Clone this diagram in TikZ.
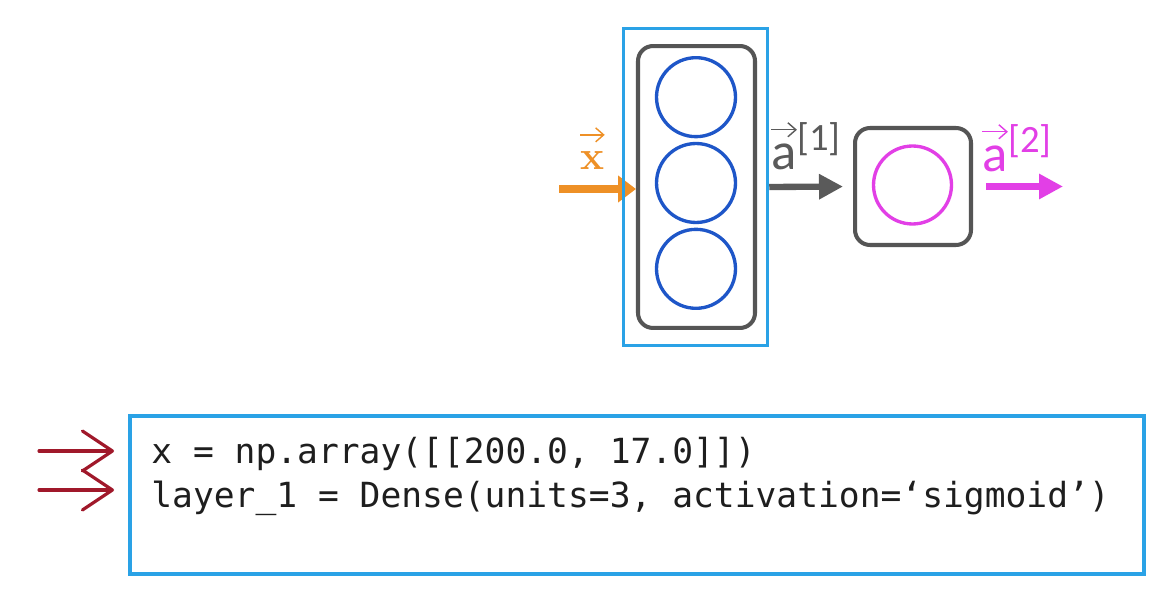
\documentclass[tikz,border=0pt]{standalone}
\usepackage{fontspec}
\setsansfont{Carlito}
\setmonofont{DejaVu Sans Mono}
\usetikzlibrary{arrows.meta,positioning}
\definecolor{PickBlue}{HTML}{2AA2E6}
\definecolor{BoxGray}{HTML}{555555}
\definecolor{UnitBlue}{HTML}{1E56C8}
\definecolor{OutMagenta}{HTML}{E23FE6}
\definecolor{InOrange}{HTML}{EE9026}
\definecolor{MidGray}{HTML}{5A5A5A}
\definecolor{HandRed}{HTML}{A0182A}
\definecolor{CodeInk}{HTML}{1E1E1E}
\tikzset{
  layerbox/.style={
    rounded corners=3mm, draw=BoxGray, line width=2.3pt,
    minimum width=2.34cm, minimum height=5.64cm, inner sep=0pt
  },
  outbox/.style={layerbox, minimum width=2.32cm, minimum height=2.34cm},
  unit/.style={
    circle, draw=UnitBlue, line width=1.9pt, minimum size=1.58cm, inner sep=0pt
  },
  outunit/.style={unit, draw=OutMagenta, minimum size=1.56cm},
  pick/.style={draw=PickBlue, line width=2pt, minimum width=2.88cm, minimum height=6.34cm},
  codebox/.style={draw=PickBlue, line width=2.6pt, minimum width=20.28cm, minimum height=3.16cm},
  codeline/.style={anchor=base west, inner sep=0pt, text=CodeInk,
    font=\ttfamily\fontsize{19.7}{24}\selectfont},
  letter/.style={anchor=base west, inner xsep=0pt, inner ysep=0pt, text height=22.7pt,
    font=\sffamily\fontsize{30}{32}\selectfont},
  xletter/.style={letter, text height=19.8pt, font=\rmfamily\bfseries\fontsize{23}{25}\selectfont},
  idxlabel/.style={anchor=base west, inner sep=0pt, font=\sffamily\fontsize{22}{24}\selectfont},
  vecbar/.style={-{Straight Barb[length=1.6mm,width=2.8mm]}, line width=0.8pt},
  inflow/.style={-{Triangle[length=0.36cm,width=0.52cm]}, line width=4pt, draw=InOrange},
  midflow/.style={-{Triangle[length=0.48cm,width=0.48cm]}, line width=3.6pt, draw=MidGray},
  outflow/.style={-{Triangle[length=0.48cm,width=0.48cm]}, line width=3.6pt, draw=OutMagenta},
  handflow/.style={-{Straight Barb[length=0.6cm,width=0.8cm,round]}, line width=1.8pt,
    draw=HandRed, line cap=round}
}
\begin{document}
\begin{tikzpicture}[x=0.02cm,y=-0.02cm,node distance=0.07cm]
  \useasboundingbox[fill=white] (0,0) rectangle (1166,604);
  % network
  \node[layerbox] (layer1) at (696.5,187) {};
  \node[unit] (u2) at (696,183) {};
  \node[unit,above=of u2] (u1) {};
  \node[unit,below=of u2] (u3) {};
  \node[outbox] (layer2) at (913,186.5) {};
  \node[outunit] (o1) at (912.5,185) {};
  \coordinate (xin) at (559,189);
  \coordinate[right=1.8cm of layer2.east] (aout);
  \draw[inflow] (xin) -- (xin -| layer1.west);
  \node[pick] (pick) at (695.5,187) {};
  \draw[midflow,shorten >=0.2cm] (layer1.east -| pick.east) -- (layer2.west);
  \draw[outflow,shorten <=0.26cm] (layer2.east) -- (aout);
  % labels
  \node[xletter,text=InOrange] (xlab) at (580,170) {x};
  \draw[vecbar,draw=InOrange] (xlab.north west) -- (xlab.north east);
  \node[letter,text=MidGray] (alab1) at (771,170) {a};
  \draw[vecbar,draw=MidGray] (alab1.north west) -- (alab1.north east);
  \node[idxlabel,text=MidGray] (idx1) at ([yshift=11pt]alab1.base east) {[1]};
  \node[letter,text=OutMagenta] (alab2) at (982,172) {a};
  \draw[vecbar,draw=OutMagenta] (alab2.north west) -- (alab2.north east);
  \node[idxlabel,text=OutMagenta] (idx2) at ([yshift=11pt]alab2.base east) {[2]};
  % code
  \node[codebox] (code) at (637,495) {};
  \node[codeline] (line1) at (151,463) {x = np.array([[200.0, 17.0]])};
  \node[codeline] (line2) at (151,507) {layer\_1 = Dense(units=3, activation=‘sigmoid’)};
  \coordinate (hand1) at (39,451);
  \coordinate (hand2) at (39,490);
  \draw[handflow,shorten >=0.74cm] (hand1) -- (hand1 -| line1.west);
  \draw[handflow,shorten >=0.74cm] (hand2) -- (hand2 -| line2.west);
\end{tikzpicture}
\end{document}
